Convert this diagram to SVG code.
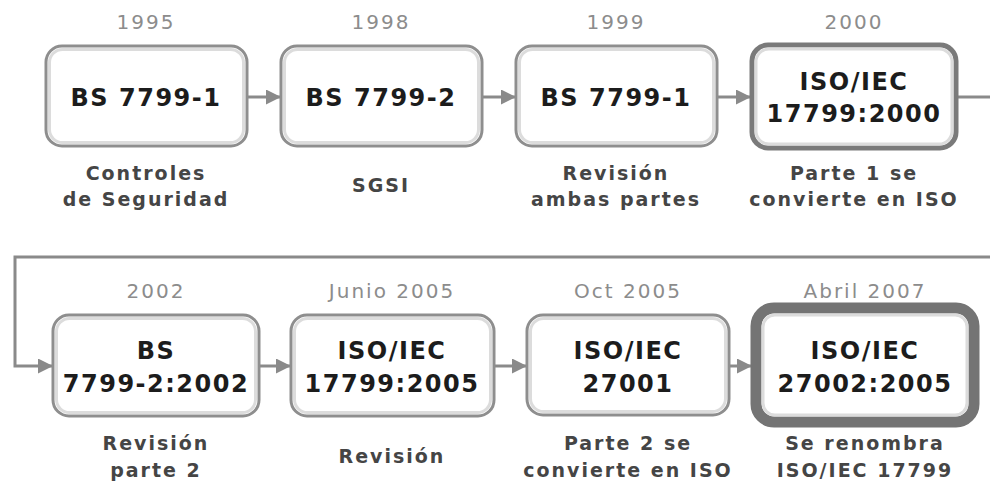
<svg xmlns="http://www.w3.org/2000/svg" width="990" height="486" viewBox="0 0 990 486">
<defs>
<style>
.box{fill:#fff;stroke:#8e8e8e;stroke-width:3}
.inner{fill:none;stroke:#dcdcdc;stroke-width:3}
.big{fill:#fff;stroke:#7a7a7a;stroke-width:5}
.huge{fill:#fff;stroke:#747474;stroke-width:11}
.yr{font-family:"DejaVu Sans",Verdana,sans-serif;font-size:20px;fill:#8c8c8c;text-anchor:middle;letter-spacing:2px}
.bt{font-family:"DejaVu Sans",Verdana,sans-serif;font-size:24px;font-weight:bold;fill:#1c1c1c;text-anchor:middle;letter-spacing:1.5px}
.cap{font-family:"DejaVu Sans",Verdana,sans-serif;font-size:19px;font-weight:bold;fill:#454545;text-anchor:middle;letter-spacing:2px}
.conn{fill:none;stroke:#8a8a8a;stroke-width:3}
</style>
<marker id="ah" markerWidth="15" markerHeight="15" refX="14" refY="7.5" orient="auto" markerUnits="userSpaceOnUse">
<path d="M0,0 L15,7.5 L0,15 Z" fill="#8a8a8a"/>
</marker>
</defs>
<rect width="990" height="486" fill="#fff"/>
<g id="connectors">
<path class="conn" d="M248 97 H280" marker-end="url(#ah)"/>
<path class="conn" d="M483 97 H515" marker-end="url(#ah)"/>
<path class="conn" d="M718 97 H750" marker-end="url(#ah)"/>
<path class="conn" d="M958 97 H990"/>
<path class="conn" d="M990 257 H15 V366 H52" marker-end="url(#ah)"/>
<path class="conn" d="M260 366 H290" marker-end="url(#ah)"/>
<path class="conn" d="M495 366 H526" marker-end="url(#ah)"/>
<path class="conn" d="M730 366 H751" marker-end="url(#ah)"/>
</g>
<g id="n1">
<text class="yr" x="146" y="29">1995</text>
<rect class="box" x="46" y="46" width="201" height="100" rx="16"/>
<rect class="inner" x="49.5" y="49.5" width="194" height="93" rx="13"/>
<text class="bt" x="146" y="106">BS 7799-1</text>
<text class="cap" x="146" y="180">Controles</text>
<text class="cap" x="146" y="206">de Seguridad</text>
</g>
<g id="n2">
<text class="yr" x="381" y="29">1998</text>
<rect class="box" x="281" y="46" width="201" height="100" rx="16"/>
<rect class="inner" x="284.5" y="49.5" width="194" height="93" rx="13"/>
<text class="bt" x="381" y="106">BS 7799-2</text>
<text class="cap" x="381" y="192">SGSI</text>
</g>
<g id="n3">
<text class="yr" x="616" y="29">1999</text>
<rect class="box" x="516" y="46" width="201" height="100" rx="16"/>
<rect class="inner" x="519.5" y="49.5" width="194" height="93" rx="13"/>
<text class="bt" x="616" y="106">BS 7799-1</text>
<text class="cap" x="616" y="180">Revisión</text>
<text class="cap" x="616" y="206">ambas partes</text>
</g>
<g id="n4">
<text class="yr" x="854" y="29">2000</text>
<rect class="big" x="752" y="45" width="204" height="103" rx="16"/>
<rect class="inner" x="756" y="49" width="196" height="95" rx="13"/>
<text class="bt" x="854" y="90">ISO/IEC</text>
<text class="bt" x="854" y="122">17799:2000</text>
<text class="cap" x="854" y="180">Parte 1 se</text>
<text class="cap" x="854" y="206">convierte en ISO</text>
</g>
<g id="n5">
<text class="yr" x="156" y="298">2002</text>
<rect class="box" x="53" y="315" width="206" height="101" rx="16"/>
<rect class="inner" x="56.5" y="318.5" width="199" height="94" rx="13"/>
<text class="bt" x="156" y="359">BS</text>
<text class="bt" x="156" y="392">7799-2:2002</text>
<text class="cap" x="156" y="450">Revisión</text>
<text class="cap" x="156" y="477">parte 2</text>
</g>
<g id="n6">
<text class="yr" x="392" y="298">Junio 2005</text>
<rect class="box" x="291" y="315" width="203" height="101" rx="16"/>
<rect class="inner" x="294.5" y="318.5" width="196" height="94" rx="13"/>
<text class="bt" x="392" y="359">ISO/IEC</text>
<text class="bt" x="392" y="392">17799:2005</text>
<text class="cap" x="392" y="463">Revisión</text>
</g>
<g id="n7">
<text class="yr" x="628" y="298">Oct 2005</text>
<rect class="box" x="527" y="315" width="202" height="100" rx="16"/>
<rect class="inner" x="530.5" y="318.5" width="195" height="93" rx="13"/>
<text class="bt" x="628" y="359">ISO/IEC</text>
<text class="bt" x="628" y="392">27001</text>
<text class="cap" x="628" y="450">Parte 2 se</text>
<text class="cap" x="628" y="477">convierte en ISO</text>
</g>
<g id="n8">
<text class="yr" x="865" y="298">Abril 2007</text>
<rect class="huge" x="756" y="308" width="218" height="114" rx="18"/>
<rect class="inner" x="763" y="315" width="204" height="100" rx="12"/>
<text class="bt" x="865" y="359">ISO/IEC</text>
<text class="bt" x="865" y="392">27002:2005</text>
<text class="cap" x="865" y="450">Se renombra</text>
<text class="cap" x="865" y="477">ISO/IEC 17799</text>
</g>
</svg>
